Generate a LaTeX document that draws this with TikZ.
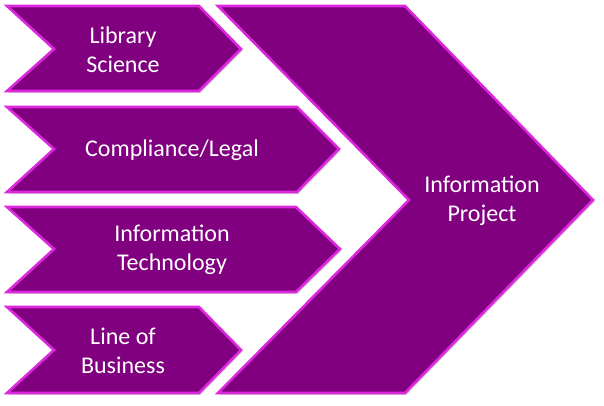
\documentclass[tikz,border=0pt]{standalone}
\usepackage{fontspec}
\setmainfont{Carlito}
\usetikzlibrary{shadows}
\definecolor{chevfill}{RGB}{128,0,128}
\definecolor{chevedge}{RGB}{220,40,220}
\begin{document}
\begin{tikzpicture}[x=1pt,y=-1pt,
  chev/.style={fill=chevfill,draw=chevedge,line width=2.6pt,line join=miter,
    drop shadow={shadow xshift=1.5pt,shadow yshift=-2pt,opacity=0.25,fill=black!60}},
  lbl/.style={text=white,font=\fontsize{24}{29}\selectfont,align=center,inner sep=0pt}]
\useasboundingbox (0,0) rectangle (604,405);
% big chevron
\draw[chev] (218,6) -- (405,6) -- (593,200) -- (405,393) -- (218,393) -- (409,200) -- cycle;
% small chevrons
\draw[chev] (7,6) -- (199,6) -- (241,49) -- (199,91) -- (7,91) -- (54,49) -- cycle;
\draw[chev] (7,107) -- (297,107) -- (339,149) -- (297,192) -- (7,192) -- (54,149) -- cycle;
\draw[chev] (7,207) -- (296,207) -- (340,249) -- (296,292) -- (7,292) -- (54,249) -- cycle;
\draw[chev] (7,307) -- (199,307) -- (241,350) -- (199,393) -- (7,393) -- (54,350) -- cycle;
% labels
\node[lbl] (ls) at (123,50) {Library\\Science};
\node[lbl] (cl) at (172,150) {Compliance/Legal};
\node[lbl] (it) at (172,250) {Information\\Technology};
\node[lbl] (lb) at (123,351) {Line of\\Business};
\node[lbl] (ip) at (482,201) {Information\\Project};
\end{tikzpicture}
\end{document}
